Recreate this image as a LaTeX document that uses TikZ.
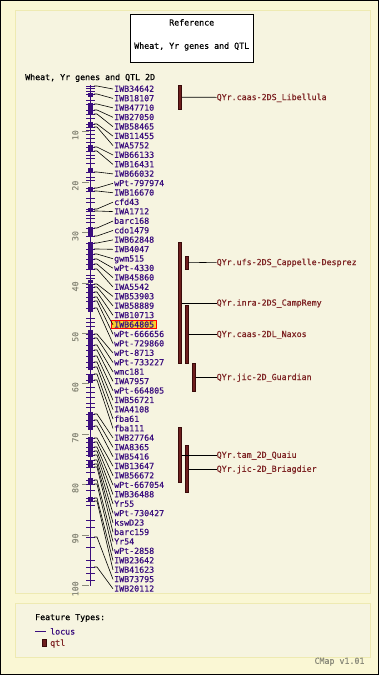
\documentclass[tikz,border=0pt]{standalone}
\usepackage{fontspec}
\usepackage{xcolor}
\usepackage{tikz}
\usetikzlibrary{positioning}
\newfontfamily\cmapfont[FakeBold=0.6]{DejaVu Sans Mono}
\definecolor{pagebg}{HTML}{FAF7D4}
\definecolor{panelbg}{HTML}{F6F4E0}
\definecolor{panelrim}{HTML}{EEEAB2}
\definecolor{locuscol}{HTML}{3B0E7E}
\definecolor{qtlcol}{HTML}{6E1E1E}
\definecolor{qtledge}{HTML}{3A0A0A}
\definecolor{qtltext}{HTML}{7E2424}
\definecolor{scalecol}{HTML}{8A8A7A}
\definecolor{hilite}{HTML}{F8D030}
\newcommand{\mapy}[1]{81.3+5.04*#1}

\begin{document}
\begin{tikzpicture}[x=1pt,y=-1pt,
    txt/.style={font=\cmapfont\fontsize{8.3}{9}\selectfont, inner sep=0pt, text height=5.6pt, text depth=0pt},
    locuslbl/.style={txt, anchor=west, text=locuscol},
    qtllbl/.style={txt, anchor=west, text=qtltext},
    conn/.style={line width=0.6pt, black},
    qtlbar/.style={draw=qtledge, fill=qtlcol, line width=0.6pt, minimum width=3.4pt, inner sep=0pt},
    chrtick/.style={locuscol, line width=0.9pt},
    scaletick/.style={scalecol, line width=0.7pt},
  ]

% page and panels
\useasboundingbox (0,0) rectangle (379,675);
\fill[pagebg] (0,0) rectangle (379,675);
\draw[black, line width=1pt] (0.5,0.5) rectangle (378.5,674.5);
\draw[panelrim, fill=panelbg, line width=0.8pt] (15.5,10) rectangle (370,593);
\draw[panelrim, fill=panelbg, line width=0.8pt] (15.5,603) rectangle (370,657);

% title
\node[draw, fill=white, line width=0.8pt, minimum width=123pt, minimum height=48pt, inner sep=0pt] (titlebox) at (191.7,38.2) {};
\node[txt] (reftitle) at (191.7,22.7) {Reference};
\node[txt] (setname) at (191.7,46) {Wheat, Yr genes and QTL};
\node[txt, anchor=west] (maptitle) at (25,77.3) {Wheat, Yr genes and QTL 2D};

% scale
\foreach \c in {10,20,...,100} {
  \draw[scaletick] (82,{\mapy{\c}}) -- (89,{\mapy{\c}});
  \node[txt, text=scalecol, rotate=90] (s\c) at (75.5,{\mapy{\c}+3.5}) {\c};
}

% chromosome
\draw[locuscol, line width=1.6pt] (90.3,85) -- (90.3,585.5);
\foreach \a/\b in {93/97,103/115,122/127,145/152,168/173,187/192,208/212,227/237,242/270,280/283,285/312,330/370,374/383,412/430,437/457,460/467,478/485,497/502}
  \fill[locuscol] (87.6,\a) rectangle (93,\b);
\foreach \t in {88,91,100,118,130,134,138,142,155,158,163,177,180,198,202,215,218,222,275,278,318,322,326,387,392,397,403,407,472,490,505,520,527,537,547,560,567,573,580}
  \draw[chrtick] (86.3,\t) -- (94.5,\t);

% highlighted marker
\draw[red, fill=hilite, line width=0.8pt] (111.7,320.4) rectangle (156.7,328.4);

% markers
\foreach \i/\my/\mk in {1/86/IWB34642,2/94/IWB18107,3/104/IWB47710,4/110/IWB27050,5/114/IWB58465,
    6/124/IWB11455,7/127/IWA5752,8/147/IWB66133,9/151/IWB16431,10/172/IWB66032,
    11/188/wPt-797974,12/191/IWB16670,13/209/cfd43,14/211/IWA1712,15/228/barc168,
    16/236/cdo1479,17/243/IWB62848,18/249/IWB4047,19/254/gwm515,20/259/wPt-4330,
    21/264/IWB45860,22/269/IWA5542,23/284/IWB53903,24/287/IWB58889,25/292/IWB10713,
    26/297/IWB64805,27/301/wPt-666656,28/308/wPt-729860,29/334/wPt-8713,30/338/wPt-733227,
    31/345/wmc181,32/350/IWA7957,33/356/wPt-664805,34/362/IWB56721,35/367/IWA4108,
    36/374/fba61,37/380/fba111,38/414/IWB27764,39/420/IWA8365,40/426/IWB5416,
    41/438/IWB13647,42/442/IWB56672,43/447/wPt-667054,44/451/IWB36488,45/455/Yr55,
    46/460/wPt-730427,47/464/kswD23,48/467/barc159,49/480/Yr54,50/484/wPt-2858,
    51/498/IWB23642,52/501/IWB41623,53/537/IWB73795,54/567/IWB20112} {
  \draw[chrtick] (86.3,\my) -- (94.5,\my);
  \coordinate (m\i) at (94,\my);
  \node[locuslbl] (l\i) at (114,{89+(\i-1)*9.43}) {\mk};
  \draw[conn] (m\i) -- ++(3,0) -- ([xshift=-1pt]l\i.west);
}

% qtl
\node[qtlbar, minimum height=24.3pt] (q1) at (180,97.2) {};
\node[qtlbar, minimum height=13.3pt] (q2) at (186.7,262.7) {};
\node[qtlbar, minimum height=121pt] (q3) at (180,302.8) {};
\node[qtlbar, minimum height=58.3pt] (q4) at (186.7,334.2) {};
\node[qtlbar, minimum height=27.7pt] (q5) at (194,377.2) {};
\node[qtlbar, minimum height=55.4pt] (q6) at (180,455) {};
\node[qtlbar, minimum height=47.4pt] (q7) at (186.7,469) {};

\node[qtllbl] (t1) at (216.5,97.3) {QYr.caas-2DS\_Libellula};
\node[qtllbl] (t2) at (216.5,262.3) {QYr.ufs-2DS\_Cappelle-Desprez};
\node[qtllbl] (t3) at (216.5,302.8) {QYr.inra-2DS\_CampRemy};
\node[qtllbl] (t4) at (216.5,334.2) {QYr.caas-2DL\_Naxos};
\node[qtllbl] (t5) at (216.5,377.2) {QYr.jic-2D\_Guardian};
\node[qtllbl] (t6) at (216.5,455) {QYr.tam\_2D\_Quaiu};
\node[qtllbl] (t7) at (216.5,469) {QYr.jic-2D\_Briagdier};

\foreach \k in {1,...,7}
  \draw[conn] (q\k.east) -- (t\k.west);

% legend
\node[txt, anchor=west] (ftypes) at (35,617.3) {Feature Types:};
\node[locuslbl] (locuskey) at (50,631.7) {locus};
\draw[locuscol, line width=0.9pt] (35,631.7) -- ([xshift=-4pt]locuskey.west);
\node[qtlbar, minimum height=7.4pt] (qtlkey) at (44.2,643) {};
\node[qtllbl] (qtlname) at (50,643) {qtl};
\node[txt, anchor=west, text=scalecol] (version) at (314.3,661) {CMap v1.01};
\end{tikzpicture}
\end{document}
